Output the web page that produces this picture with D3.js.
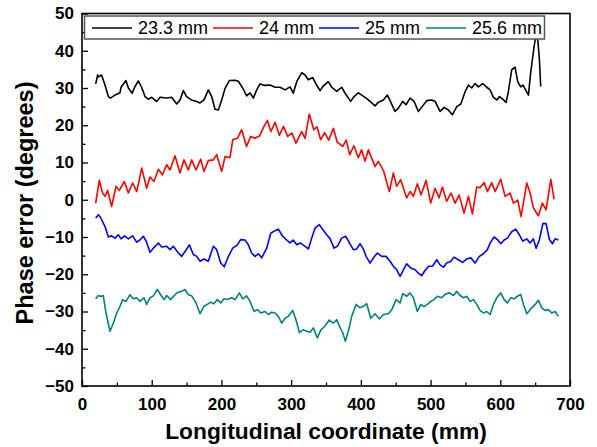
<!DOCTYPE html>
<html>
<head>
<meta charset="utf-8">
<script src="https://cdn.jsdelivr.net/npm/d3@7/dist/d3.min.js"></script>
<style>
  html, body { margin: 0; padding: 0; background: #fff; }
  svg { display: block; }
</style>
</head>
<body>
<svg id="chart" width="597" height="447"></svg>
<script>
// ---------------- data ----------------
const seriesNames = ["23.3 mm", "24 mm", "25 mm", "25.6 mm"];
const seriesColors = ["#000000", "#ff0000", "#0000ff", "#008080"];

const s233 = [[19.6,31.1],[22.5,33.5],[24,33],[28,33.5],[33,30.8],[37.8,27.7],[40.7,27.3],[47.3,28.1],[54.5,28.7],[56,30.2],[63,32],[66.5,30],[72,28.6],[76,30.4],[80.8,31.9],[85.5,30.2],[90.4,27.7],[95.1,27],[100,27.5],[107,26.4],[112,27.5],[121.5,27.3],[128.6,27.5],[135.8,25.7],[140.6,26.8],[145.4,29.3],[150,27.7],[157,26.8],[164.5,26.4],[169.3,26],[175,26.8],[181.2,29.5],[186,27.7],[190.8,24.3],[195.6,24.1],[200.4,26.8],[205.2,29.9],[211.4,32],[219.5,32.1],[224.3,31.8],[230.5,30],[236.2,27.9],[241,28.7],[245.8,27.3],[250.6,29.5],[255.4,31.1],[262.5,30.7],[269.7,30.8],[276.9,30.2],[284,30.2],[291.3,29.5],[298.4,30.3],[303,28.6],[308,31.7],[315.2,34.1],[320,33.5],[324.7,32.2],[330.9,32.8],[336.6,30.8],[341.5,29.3],[346.3,30.6],[353.4,31.7],[358.2,30.2],[365.3,29.1],[372.5,30.2],[377.3,28.6],[385.4,26.4],[390.2,27.7],[396.4,28.7],[401.2,28.1],[407.5,27.3],[413.3,26.4],[420.4,25.2],[425.2,26.2],[432.3,26.8],[438,28.1],[441.9,26.6],[449,23.7],[453.8,24.6],[460,26.4],[464.8,25.5],[470.6,27.3],[476.3,26.4],[482.5,23.7],[488.7,25.2],[494.5,26.6],[501.7,26.8],[506.5,26.4],[513.6,23.7],[519.4,24.8],[525.5,24.1],[531.3,22.8],[537.6,25],[543.4,25.7],[549.5,29],[554.3,30.8],[559,30],[563.8,31.2],[568.6,30.3],[574.8,31.2],[580.6,30.2],[585.4,29.5],[590.2,27.5],[595,26.8],[598.9,27.7],[604.6,26.8],[608.3,26.1],[611.6,29],[616.4,34.9],[621.2,35.6],[625,31.7],[629.3,30.3],[632.6,30.8],[640.4,28.1],[643.7,34.3],[648.5,41.1],[651.4,44.5],[654,42.5],[656,38],[658,30.4]];

const s24 = [[19.6,-0.9],[24.8,5.2],[29.5,1.8],[33,0.9],[36.8,2.5],[42.5,-1.8],[48.8,3.6],[53.6,2.5],[60.7,4.9],[66.5,1.8],[72.7,4.5],[78.5,2.2],[85.7,8.5],[92.8,3.1],[97.6,6.1],[103.3,4.9],[109.5,8.2],[115.3,6.7],[121.5,9.4],[126.3,8],[133.4,11.8],[140.6,7.2],[146.3,10.7],[152.5,8],[157.3,10.7],[163.6,8],[170.3,10.9],[175,7.6],[181.2,10.5],[188.4,10.7],[193.2,12.1],[200.4,7.6],[205.2,11.6],[212.3,11.3],[216.2,16.1],[223,16.5],[229,18.8],[236,14.3],[242,17],[248,16.5],[255,17.2],[261,19.7],[266,21.3],[271,18.3],[277,20.8],[283,17.3],[289,19.7],[295,17],[301,17.9],[307,15.2],[315,18.3],[320,16.5],[326,23],[332.5,18.8],[337,19.6],[342.4,16.1],[348,18],[354,16],[360.6,19.2],[366,15.5],[374,14.3],[379,16],[384,12.1],[390,14.5],[396.4,11.3],[401,13.4],[406,10.3],[410.8,13.4],[420.4,8.9],[425,10.3],[432.3,7.9],[440.9,2.2],[446.6,7.2],[451.4,3.6],[457.1,5.4],[465.7,0.5],[470.6,2.2],[475.3,0.9],[481.1,4.3],[486.4,1.3],[493.5,5.2],[500.2,-0.9],[506.5,3.1],[512.2,0.5],[516.9,3.4],[523.1,-0.4],[529.4,1.8],[535.2,-0.9],[541,1.3],[548,-3.6],[554.3,0.9],[560,-3.8],[566.2,3.4],[570.9,3.2],[576.8,4.6],[581.5,2.2],[587.7,4.6],[592.5,2.2],[600.7,5.5],[606.9,0.9],[614,1.8],[618.8,-0.9],[625,-0.1],[629.8,-4.5],[638,4.5],[642.8,1.8],[647.5,-2.2],[654.7,-4.3],[660.4,-0.9],[665.7,-2.7],[672.5,5.5],[677.2,0.1]];

const s25 = [[19.6,-4.9],[23.6,-4],[27,-4.9],[33,-7.2],[37.8,-10],[42.5,-9.7],[47.3,-10.3],[52,-9.4],[56,-10.5],[61,-9.7],[66.5,-10.5],[72.7,-9.7],[78.5,-11.4],[83,-10.8],[88,-9.8],[92,-11.1],[97.6,-14.1],[102.4,-13],[109.5,-11.6],[114.3,-12.7],[121.5,-12.5],[126.3,-13.4],[131,-12.5],[138.2,-14.3],[143,-15.2],[147.8,-13.9],[154,-12.1],[159.7,-14.7],[164.5,-15.2],[169.3,-16.5],[175,-15.9],[181.2,-16.5],[188.4,-12.5],[193.2,-13.4],[199,-17],[204,-18],[210,-15.2],[216.2,-13],[222.8,-12.1],[227.6,-10.7],[233.8,-10.8],[238.6,-12.1],[243.4,-14.3],[248.2,-15.2],[253,-14.5],[257.7,-15.6],[265,-13],[270.7,-9],[276.9,-8.3],[281.6,-7.9],[287.8,-9.8],[293.6,-10.8],[298.4,-11.6],[303,-10.8],[308,-12.1],[313,-11.6],[320,-12.5],[324.7,-13.2],[329.5,-10.3],[334.3,-7.6],[340.5,-6.7],[345.3,-8],[351,-9.4],[356,-10.5],[361.5,-13],[366.3,-12.5],[372.5,-10.3],[378.2,-9.8],[383.6,-11.6],[389.2,-13.4],[394,-13.2],[398.8,-11.8],[403.5,-13.2],[407.5,-15.2],[413.2,-17],[418,-15.6],[423.7,-14.3],[430,-15.2],[436.1,-15.2],[441.9,-16.5],[446.7,-17.9],[451.5,-18.8],[456.3,-20.6],[461,-18.8],[465.7,-17.2],[471.5,-18.3],[477.8,-18.8],[482.5,-19.7],[487.2,-20.4],[492,-19],[496.8,-17.9],[503,-17.8],[508.9,-16.1],[513.6,-17.5],[518.4,-18.1],[523.1,-17],[528.8,-16.6],[533.5,-15.4],[539.9,-16.1],[546,-16.8],[551.9,-15.9],[557.6,-15.6],[563.8,-17],[570,-15.2],[575.8,-14.5],[581.5,-13.4],[585.4,-11.6],[591.1,-10],[595.9,-10.7],[600.7,-11.8],[605.5,-10.8],[610.2,-10.3],[616.4,-8.6],[622.2,-7.9],[627.4,-9.4],[632.2,-11.1],[637.9,-10.5],[642.8,-11.6],[647.5,-10.5],[651.4,-13],[656,-10.8],[661,-6.4],[665.7,-6.4],[670.5,-10.7],[675,-11.8],[678.6,-10.5],[683.4,-10.8]];

const s256 = [[19.6,-26.6],[23.5,-25.7],[27,-26],[30.5,-25.7],[34.4,-30.4],[40.2,-35.3],[45,-33.1],[49.8,-30.4],[54.5,-28.6],[58.4,-26.8],[63,-27.3],[68.9,-25.5],[73.6,-26.6],[78.5,-26.3],[83.3,-27.3],[89,-26.3],[92.8,-28.1],[97.6,-26.3],[102.4,-25.8],[108,-24.1],[112.8,-25.5],[117.6,-26.8],[121.5,-25.7],[127.2,-26.8],[132,-25.8],[136.7,-24.9],[142.9,-24.6],[147.8,-24.1],[152.5,-25.5],[157.3,-25.8],[163.6,-27.7],[169.3,-30.6],[175,-28.6],[179.8,-28.1],[184.5,-27.5],[189.3,-27.9],[194.1,-26.8],[199,-27.7],[203.7,-26.6],[208.5,-26.8],[214.6,-26.3],[219.5,-26.8],[225.7,-25],[230.5,-26.6],[236.2,-25.8],[241,-27.3],[246.8,-30],[251.6,-29.5],[256.4,-30.4],[262.5,-30],[267.3,-30.8],[272,-30.2],[276.9,-30.4],[281.6,-31.3],[286.5,-33.1],[291.3,-31.8],[296,-31.3],[302.2,-29.7],[306.9,-32.2],[312,-35.7],[317,-34.9],[322.4,-35.3],[327.2,-35.6],[331.9,-34.4],[337.6,-37.1],[342.4,-35],[348.6,-33.9],[354.8,-32.3],[360.6,-33.1],[365.3,-32.2],[369.2,-33.9],[374,-35.7],[377.8,-38],[382,-35.3],[386.9,-31.3],[393.1,-28.1],[398.8,-29],[403.6,-28.6],[408.4,-27.9],[414.2,-31.8],[420.4,-30.6],[426.6,-32],[432.3,-30.8],[439.5,-30.6],[444.3,-29.5],[450.5,-26.8],[456.3,-27.7],[460,-25.2],[465.7,-25.9],[470.6,-25],[475.3,-26.3],[481.1,-30],[485.9,-28.1],[490.7,-28.7],[495.5,-28.1],[500.2,-27.3],[505,-26.8],[509.8,-25.9],[516,-26.3],[520.8,-25.4],[527,-25],[532.7,-25.7],[537.6,-24.6],[542.4,-25.7],[547.1,-26.3],[551.9,-25.9],[556.7,-27.3],[561.5,-26.8],[566.2,-28.1],[571,-29.7],[575.8,-30.4],[580.6,-30],[585.4,-30.8],[590.2,-28.1],[595,-26.3],[600.7,-25],[605.5,-26.8],[610.2,-27.7],[615,-26.3],[619.8,-26.6],[624.6,-25.9],[629.3,-25.4],[633.2,-28.1],[638,-30.6],[642.8,-29.5],[650,-28.1],[654.7,-27],[659.5,-29],[664.3,-29.7],[669,-29.5],[673.8,-30.4],[678.6,-30],[683.4,-31.3]];

const xTicks = [0, 100, 200, 300, 400, 500, 600, 700];
const yTicks = [-50, -40, -30, -20, -10, 0, 10, 20, 30, 40, 50];
const xTitle = "Longitudinal coordinate (mm)";
const yTitle = "Phase error (degrees)";

// ---------------- drawing ----------------
const allSeries = [s233, s24, s25, s256];
const svg = d3.select("#chart");
const W = 597, H = 447;
const m = { left: 82, right: 570, top: 13.5, bottom: 386 };

svg.append("rect").attr("width", W).attr("height", H).attr("fill", "#fff");

const x = d3.scaleLinear().domain([0, 700]).range([m.left, m.right]);
const y = d3.scaleLinear().domain([-50, 50]).range([m.bottom, m.top]);

const font = "Arial, 'Liberation Sans', Helvetica, sans-serif";

// clip
svg.append("clipPath").attr("id", "clip").append("rect")
  .attr("x", m.left).attr("y", m.top).attr("width", m.right - m.left).attr("height", m.bottom - m.top);

// lines
const line = d3.line().x(d => x(d[0])).y(d => y(d[1]));
const gLines = svg.append("g").attr("clip-path", "url(#clip)");
allSeries.forEach((s, i) => {
  gLines.append("path").datum(s)
    .attr("d", line)
    .attr("fill", "none")
    .attr("stroke", seriesColors[i])
    .attr("stroke-width", 1.6)
    .attr("stroke-linejoin", "round");
});

// axes (inward ticks)
const xMinor = d3.range(50, 700, 100);
const yMinor = d3.range(-45, 50, 10);

const gx = svg.append("g").attr("transform", `translate(0,${m.bottom})`)
  .call(d3.axisBottom(x).tickValues(xTicks).tickSize(-6).tickPadding(12).tickFormat(d3.format("d")));
const gxm = svg.append("g").attr("transform", `translate(0,${m.bottom})`)
  .call(d3.axisBottom(x).tickValues(xMinor).tickSize(-3.5).tickFormat(""));
const gy = svg.append("g").attr("transform", `translate(${m.left},0)`)
  .call(d3.axisLeft(y).tickValues(yTicks).tickSize(-6).tickPadding(9).tickFormat(d3.format("d")));
const gym = svg.append("g").attr("transform", `translate(${m.left},0)`)
  .call(d3.axisLeft(y).tickValues(yMinor).tickSize(-3.5).tickFormat(""));

[gx, gxm, gy, gym].forEach(g => {
  g.select(".domain").remove();
  g.selectAll(".tick line").attr("stroke", "#000").attr("stroke-width", 1.3);
  g.selectAll("text").attr("fill", "#000")
    .style("font-family", font).style("font-weight", "bold").style("font-size", "17px");
});
gy.selectAll(".tick text").attr("x", -8);

// frame
svg.append("rect")
  .attr("x", m.left).attr("y", m.top)
  .attr("width", m.right - m.left).attr("height", m.bottom - m.top)
  .attr("fill", "none").attr("stroke", "#000").attr("stroke-width", 1.6);

// titles
svg.append("text")
  .attr("x", 326).attr("y", 439)
  .attr("text-anchor", "middle")
  .style("font-family", font).style("font-weight", "bold").style("font-size", "22.8px")
  .text(xTitle);
svg.append("text")
  .attr("transform", `translate(33,203) rotate(-90)`)
  .attr("text-anchor", "middle")
  .style("font-family", font).style("font-weight", "bold").style("font-size", "23.5px")
  .text(yTitle);

// legend
const leg = svg.append("g");
leg.append("rect")
  .attr("x", 84.5).attr("y", 16).attr("width", 460).attr("height", 23)
  .attr("fill", "#fff").attr("stroke", "#555").attr("stroke-width", 1.5);
const legStarts = [92, 213, 319, 426];
seriesNames.forEach((name, i) => {
  const sx = legStarts[i];
  leg.append("line").attr("x1", sx).attr("x2", sx + 40).attr("y1", 28).attr("y2", 28)
    .attr("stroke", seriesColors[i]).attr("stroke-width", 1.6);
  leg.append("text").attr("x", sx + 46).attr("y", 28).attr("dy", "0.36em")
    .style("font-family", font).style("font-size", "18px").attr("fill", "#000")
    .text(name);
});
</script>
</body>
</html>
